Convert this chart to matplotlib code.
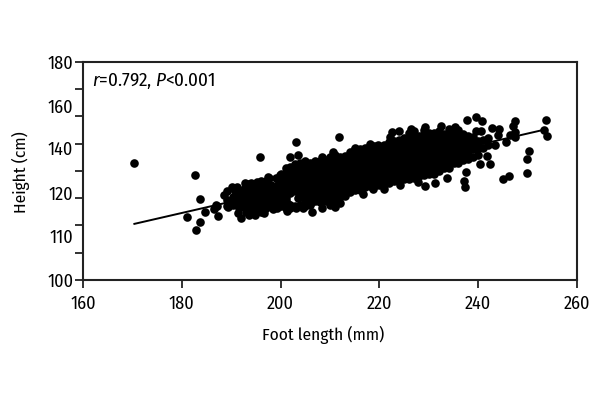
import matplotlib
matplotlib.use("Agg")
import matplotlib.pyplot as plt
from matplotlib import font_manager

# the original uses a condensed face, take the first one available
names = [f.name for f in font_manager.fontManager.ttflist]
narrow = "Liberation Sans"
for candidate in ["Fira Sans Condensed", "Roboto Condensed", "Liberation Sans Narrow"]:
    if candidate in names:
        narrow = candidate
        break
plt.rcParams["font.family"] = [narrow, "DejaVu Sans"]
plt.rcParams["mathtext.fontset"] = "custom"
plt.rcParams["mathtext.it"] = narrow + ":italic"
plt.rcParams["mathtext.rm"] = narrow

x_labels = [160, 180, 200, 220, 240, 260]
y_ticks = [100, 110, 120, 130, 140, 150, 160, 170, 180]
# the labels on the y axis do not sit on the ticks in the original
y_label_pos = [100, 116.1, 131.9, 148.4, 163.9, 180]
y_labels = ["100", "110", "120", "140", "160", "180"]

line_x = [170.4, 253.0]
line_y = [120.6, 155.0]

outlier_x = [170.4, 182.6, 183.7, 181.0, 183.6, 182.8, 184.7, 186.5, 187.4, 187.1, 195.9, 197.6,
             201.9, 203.2, 203.5, 211.8, 253.7, 254.0, 253.4, 250.2, 249.9, 249.8, 246.2, 245.1,
             242.4, 240.4, 241.7, 237.5, 237.2, 237.4, 233.7, 231.2, 229.2, 237.7, 239.5, 240.7,
             239.5, 240.5, 242.7, 244.3, 244.1, 243.5, 245.6, 247.5, 247.1, 247.4, 246.4, 247.5,
             232.5, 229.3, 226.3, 224.0, 222.5, 222.1, 235.3, 218.1, 219.8, 208.3, 210.7, 215.0,
             212.0, 211.0, 210.0, 208.3, 206.4, 205.9, 204.6, 203.2, 202.0, 214.0, 216.6, 218.8,
             221.0, 224.2, 227.9, 192.0, 191.3, 194.8, 193.7, 196.7, 189.4, 188.6, 190.1, 193.5,
             195.3, 197.5, 199.9, 201.8, 199.2, 201.2, 187.0]
outlier_y = [143.1, 138.4, 129.6, 123.2, 121.3, 118.5, 125.1, 126.0, 123.6, 127.3, 145.1, 137.5,
             145.3, 150.5, 145.8, 152.6, 158.7, 153.0, 155.0, 147.3, 144.3, 139.3, 138.3, 137.2,
             142.6, 142.5, 145.6, 139.5, 136.4, 134.2, 137.3, 135.5, 134.6, 158.7, 159.7, 158.4,
             154.7, 154.6, 155.7, 155.5, 153.3, 149.4, 150.6, 158.5, 156.5, 154.2, 153.3, 152.4,
             156.6, 156.0, 155.5, 154.8, 154.3, 152.6, 156.0, 149.8, 149.5, 145.3, 147.1, 148.3,
             128.1, 126.9, 127.5, 126.3, 124.8, 127.5, 126.3, 126.3, 126.5, 132.4, 131.5, 133.3,
             133.3, 134.9, 136.1, 122.6, 124.7, 123.9, 123.9, 124.7, 126.9, 131.2, 134.2, 135.2,
             136.1, 137.7, 138.5, 140.4, 126.3, 125.4, 127.5]

# left end of the cloud, thinner than the rest
left_x = [189.8, 190.8, 191.7, 192.5, 193.5, 193.6, 194.5, 194.6, 195.5, 195.7, 196.4, 196.5, 197.4, 197.6, 198.4,
          198.5, 198.6, 199.5, 199.6, 200.4, 200.6, 201.5, 201.6, 202.4, 202.8, 203.5, 203.6, 192.8, 191.5]
left_y = [128.5, 132.5, 129.5, 133.5, 126.5, 130.5, 126.0, 131.5, 129.5, 135.0, 126.5, 131.7, 127.8, 133.5, 126.2,
          128.8, 131.2, 130.8, 135.8, 128.2, 133.2, 127.8, 135.5, 133.0, 136.0, 130.0, 134.0, 135.5, 126.5]

cloud_x = [189.2, 190.3, 191.2, 192.1, 193.0, 194.1, 195.0, 196.0, 197.0, 198.0,
           199.0, 200.0, 201.0, 202.0, 203.0, 204.0, 205.0, 206.0, 207.0, 208.0,
           209.0, 210.0, 211.0, 212.0, 213.0, 214.0, 215.0, 216.0, 217.0, 218.0,
           219.0, 220.0, 221.0, 222.0, 223.0, 224.0, 225.0, 226.0, 227.0, 228.0,
           229.0, 230.0, 231.0, 232.0, 233.0, 234.0, 235.0, 236.0, 237.0, 238.0,
           239.0, 240.0, 241.0, 242.0]
cloud_y = [[127.0, 129.5, 132.5], [127.5, 130.5, 133.8], [128.0, 131.0, 134.0], [127.0, 129.8, 132.3],
           [125.0, 126.5, 128.0, 129.8, 131.5, 133.0, 134.5], [124.5, 127.5, 130.0, 133.0, 135.5], [125.5, 127.0, 128.5, 131.0, 132.5, 134.0],
           [125.0, 128.0, 130.5, 133.0, 134.6, 136.2], [126.5, 129.0, 130.5, 132.0, 134.5, 136.3], [127.5, 130.0, 132.5, 134.0, 135.0],
           [127.0, 128.2, 129.5, 132.0, 133.2, 134.5, 137.3], [127.0, 129.5, 130.8, 132.0, 134.5, 137.0, 139.0],
           [126.5, 129.0, 130.2, 131.5, 134.0, 136.5, 139.0, 141.0], [127.5, 132.0, 133.2, 134.5, 137.0, 139.5, 141.5],
           [127.0, 132.5, 135.0, 137.5, 140.0, 142.5], [127.5, 130.5, 133.0, 135.5, 138.0, 140.5, 143.0],
           [127.0, 129.5, 132.0, 134.5, 137.0, 139.5, 142.0, 143.5], [128.0, 130.5, 133.0, 135.5, 138.0, 140.5, 143.0],
           [129.0, 131.5, 134.0, 136.5, 139.0, 141.5, 143.5], [128.5, 131.0, 133.5, 136.0, 138.5, 141.0, 143.5],
           [129.0, 131.5, 134.0, 136.5, 139.0, 141.5, 144.0], [130.0, 132.5, 135.0, 137.5, 140.0, 142.5, 145.0],
           [129.5, 132.0, 134.5, 137.0, 139.5, 142.0, 144.5, 146.0], [130.5, 133.0, 135.5, 138.0, 140.5, 143.0, 145.0],
           [131.0, 133.5, 136.0, 138.5, 141.0, 143.5, 145.5], [133.0, 135.5, 138.0, 140.5, 143.0, 145.5, 147.0],
           [133.0, 135.5, 138.0, 140.5, 143.0, 145.5, 148.0], [133.0, 135.5, 138.0, 140.5, 143.0, 145.5, 148.0],
           [134.0, 136.5, 139.0, 141.5, 144.0, 146.5, 148.5], [134.5, 137.0, 139.5, 142.0, 144.5, 147.0, 149.0],
           [134.5, 137.0, 139.5, 142.0, 144.5, 147.0, 149.0], [135.0, 137.5, 140.0, 142.5, 145.0, 147.5, 148.5],
           [135.0, 137.5, 140.0, 142.5, 145.0, 147.5, 149.5], [135.5, 138.0, 140.5, 143.0, 145.5, 148.0, 150.5],
           [136.5, 139.0, 141.5, 144.0, 146.5, 149.0, 151.0], [136.5, 139.0, 141.5, 144.0, 146.5, 149.0, 151.5],
           [137.0, 139.5, 142.0, 144.5, 147.0, 149.5, 152.0], [137.0, 139.5, 142.0, 144.5, 147.0, 149.5, 152.0, 154.0],
           [137.5, 140.0, 142.5, 145.0, 147.5, 150.0, 152.5, 154.5], [138.0, 140.5, 143.0, 145.5, 148.0, 150.5, 153.0],
           [138.5, 141.0, 143.5, 146.0, 148.5, 151.0, 153.5, 155.0], [139.0, 141.5, 144.0, 146.5, 149.0, 151.5, 154.0],
           [139.0, 141.5, 144.0, 146.5, 149.0, 151.5, 154.0], [140.0, 142.5, 145.0, 147.5, 150.0, 152.5, 154.5],
           [141.0, 143.5, 146.0, 148.5, 151.0, 153.5], [141.0, 143.5, 146.0, 148.5, 151.0, 153.5, 155.5],
           [143.0, 145.5, 148.0, 150.5, 153.0, 155.0], [143.0, 145.5, 148.0, 150.5, 153.0, 155.0],
           [144.0, 146.5, 149.0, 151.0, 153.5], [144.5, 147.0, 149.0, 151.5, 153.0],
           [145.0, 148.0, 150.5, 152.5], [146.0, 148.5, 151.0], [148.5, 151.5], [149.5, 152.0]]

fig = plt.figure(figsize=(6, 4), dpi=100)
ax = fig.add_axes([83 / 600, 1 - 280 / 400, 494 / 600, 218 / 400])

dot = 6.2
for x, heights in zip(cloud_x, cloud_y):
    ax.plot([x] * len(heights), heights, "o", color="black", ms=dot, mew=0, zorder=3)
ax.plot(left_x, left_y, "o", color="black", ms=dot, mew=0, zorder=3)
ax.plot(outlier_x, outlier_y, "o", color="black", ms=dot, mew=0, zorder=3)
ax.plot(line_x, line_y, "-", color="black", lw=1.4, zorder=2)

ax.set_xlim(160, 260)
ax.set_ylim(100, 180)
ax.set_xticks(x_labels)
ax.set_xticklabels([str(v) for v in x_labels])
ax.set_yticks(y_ticks)
ax.set_yticklabels([])
ax.yaxis.remove_overlapping_locs = False
ax.set_yticks(y_label_pos, minor=True)
ax.set_yticklabels(y_labels, minor=True)
ax.tick_params(axis="x", length=6, width=1.3, color="#222222", labelsize=13, pad=5)
ax.tick_params(axis="y", which="major", length=6, width=1.3, color="#222222")
ax.tick_params(axis="y", which="minor", length=0, labelsize=13, pad=7)
for side in ax.spines.values():
    side.set_linewidth(1.5)
    side.set_color("#222222")

ax.set_xlabel("Foot length (mm)", fontsize=12.5)
ax.set_ylabel("Height (cm)", fontsize=12.5)
ax.xaxis.set_label_coords(0.486, -0.212)
ax.yaxis.set_label_coords(-0.107, 0.495)
ax.text(8.5 / 494, 0.915, r"$\mathit{r}$=0.792, $\mathit{P}$<0.001", transform=ax.transAxes,
        fontsize=13.8, va="center", ha="left")

plt.savefig("out.png", dpi=100)
plt.close()
